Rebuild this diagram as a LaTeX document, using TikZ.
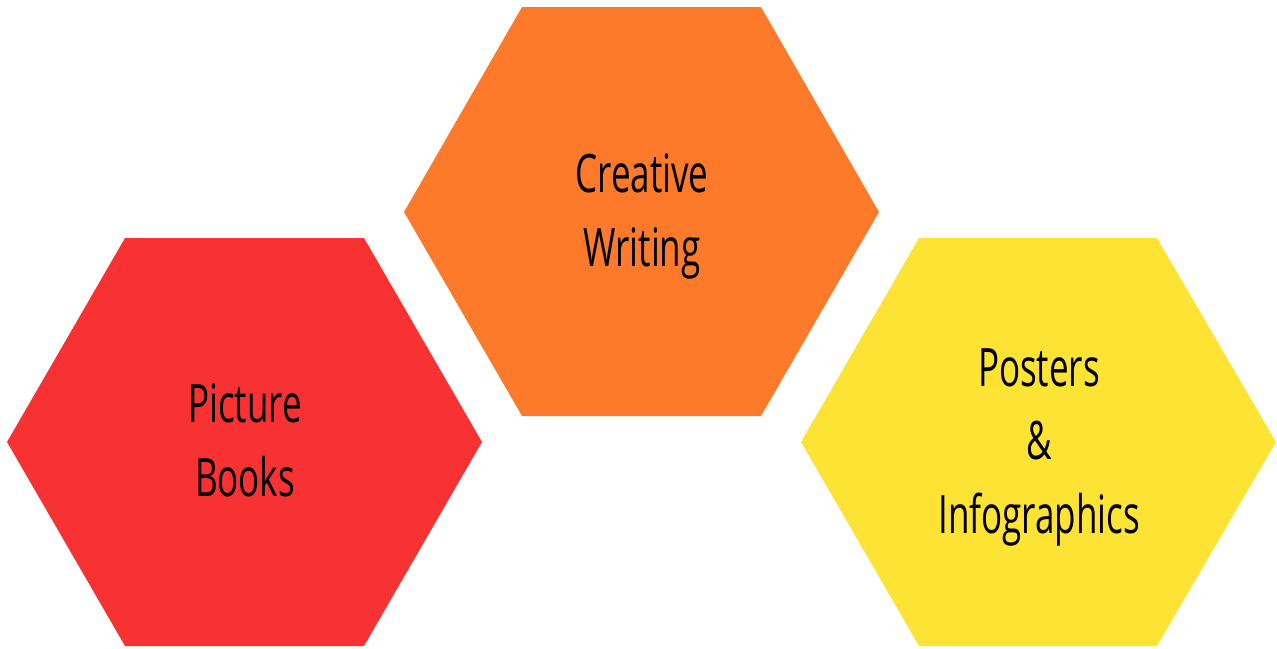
\documentclass[tikz,border=0pt]{standalone}
\usepackage{fontspec}
\newfontfamily\hexfont[FakeStretch=0.66]{Open Sans}
\definecolor{hexred}{HTML}{F83232}
\definecolor{hexorange}{HTML}{FC7A29}
\definecolor{hexyellow}{HTML}{FDE333}
\begin{document}
\begin{tikzpicture}[x=1pt,y=-1pt,
  hexlabel/.style={anchor=base,inner sep=0pt,font=\hexfont\fontsize{53}{74}\selectfont,text=black}]
\useasboundingbox (0,0) rectangle (1277,648);
% red hexagon
\fill[hexred] (7,442) -- (125,238) -- (364,238) -- (482,442) -- (364,646) -- (125,646) -- cycle;
% orange hexagon
\fill[hexorange] (404,212) -- (522,7) -- (761,7) -- (879,212) -- (761,416) -- (522,416) -- cycle;
% yellow hexagon
\fill[hexyellow] (801,442) -- (919,238) -- (1157,238) -- (1276,442) -- (1157,646) -- (919,646) -- cycle;
% labels
\node[hexlabel] (cw1) at (642,192) {Creative};
\node[hexlabel] (cw2) at (642,266) {Writing};
\node[hexlabel] (pb1) at (245,422) {Picture};
\node[hexlabel] (pb2) at (245,496) {Books};
\node[hexlabel] (pi1) at (1039,386) {Posters};
\node[hexlabel] (pi2) at (1039,459) {\&};
\node[hexlabel] (pi3) at (1039,533) {Infographics};
\end{tikzpicture}
\end{document}
